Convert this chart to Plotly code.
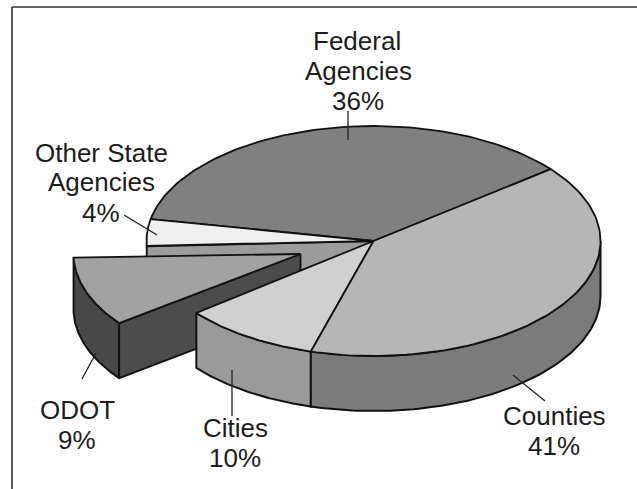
import numpy as np
import plotly.graph_objects as go

# Data
categories = ["Counties", "Cities", "ODOT", "Other State Agencies", "Federal Agencies"]
labelled_percent = [41, 10, 9, 4, 36]
drawn_percent = [40.2, 9.8, 10.0, 3.8, 36.2]  # the slices as actually drawn in the source

# Pie projection
CX, CY, RX, RY, DEPTH = 373.5, 241, 227, 115, 55
START_DEG = 38.7
ODOT_SHIFT = (-73, 13)
ODOT_TRIM_START, ODOT_TRIM_END = -1.7, -0.9

top_fill = {"Counties": "#b6b6b6", "Cities": "#d0d0d0", "ODOT": "#a2a2a2",
            "Other State Agencies": "#efefef", "Federal Agencies": "#808080"}
wall_fill = {"Counties": "#7b7b7b", "Cities": "#9a9a9a", "ODOT": "#484848"}
TEXT = "#1c1c1c"
INK = "#111111"

ends = START_DEG - np.cumsum(drawn_percent) * 3.6
starts = np.r_[START_DEG, ends[:-1]]
span = {c: (s, e) for c, s, e in zip(categories, starts, ends)}


def rim(a, b, cx=CX, cy=CY, dz=0):
    t = np.radians(np.linspace(a, b, 90))
    return cx + RX * np.cos(t), cy - RY * np.sin(t) + dz


def poly(x, y, fill, w=1.8):
    return go.Scatter(x=list(x), y=list(y), mode="lines", fill="toself", fillcolor=fill,
                      line=dict(color=INK, width=w), hoverinfo="skip", showlegend=False)


def top(name, a, b, cx=CX, cy=CY):
    x, y = rim(a, b, cx, cy)
    return poly(np.r_[cx, x, cx], np.r_[cy, y, cy], top_fill[name])


def wall(name, a, b, cx=CX, cy=CY):
    x1, y1 = rim(a, b, cx, cy)
    x2, y2 = rim(b, a, cx, cy, DEPTH)
    return poly(np.r_[x1, x2, x1[0]], np.r_[y1, y2, y1[0]], wall_fill[name], 2)


def cut(a, fill, cx=CX, cy=CY):
    x, y = rim(a, a, cx, cy)
    return poly([cx, x[0], x[0], cx, cx], [cy, y[0], y[0] + DEPTH, cy + DEPTH, cy], fill)


fig = go.Figure()
ox, oy = CX + ODOT_SHIFT[0], CY + ODOT_SHIFT[1]
od_a = span["ODOT"][0] + ODOT_TRIM_START
od_b = span["ODOT"][1] + ODOT_TRIM_END
# back to front
fig.add_trace(top("Federal Agencies", *span["Federal Agencies"]))
fig.add_trace(cut(span["Other State Agencies"][0], "#9c9c9c"))
fig.add_trace(top("Other State Agencies", *span["Other State Agencies"]))
fig.add_trace(wall("ODOT", od_a, od_b, ox, oy))
fig.add_trace(cut(od_a, "#4c4c4c", ox, oy))
fig.add_trace(top("ODOT", od_a, od_b, ox, oy))
fig.add_trace(wall("Cities", *span["Cities"]))
fig.add_trace(top("Cities", *span["Cities"]))
fig.add_trace(wall("Counties", span["Counties"][1], 0))
fig.add_trace(top("Counties", *span["Counties"]))

label_lines = [("Federal", 357, 41), ("Agencies", 358, 71), ("36%", 358, 101),
               ("Other State", 101, 153), ("Agencies", 101, 182), ("4%", 101, 213),
               ("ODOT", 77, 410), ("9%", 77, 440),
               ("Cities", 235, 428), ("10%", 235, 458),
               ("Counties", 554, 416), ("41%", 554, 446)]
for text, x, y in label_lines:
    fig.add_annotation(x=x, y=y, text=text, showarrow=False, xanchor="center", yanchor="middle",
                       font=dict(family="Liberation Sans, Arial, sans-serif", size=26, color=TEXT))

leaders = [(348, 111, 348, 140), (124, 215, 157, 235), (82, 379, 96, 353),
           (232, 370, 232, 416), (513, 375, 545, 401)]
shapes = [dict(type="line", x0=a, y0=b, x1=c, y1=d, line=dict(color="#222222", width=1.3))
          for a, b, c, d in leaders]
shapes += [dict(type="line", x0=12, y0=7, x1=637, y1=7, line=dict(color="#333333", width=1.6)),
           dict(type="line", x0=12, y0=7, x1=12, y1=489, line=dict(color="#333333", width=1.6))]

fig.update_layout(width=637, height=489, margin=dict(l=0, r=0, t=0, b=0), autosize=False,
                  paper_bgcolor="#ffffff", plot_bgcolor="#ffffff", shapes=shapes,
                  xaxis=dict(range=[0, 637], visible=False, fixedrange=True),
                  yaxis=dict(range=[489, 0], visible=False, fixedrange=True))
fig.write_html("out.html", config={"displayModeBar": False},
               post_script="document.body.style.margin='0';document.body.style.overflow='hidden';")
